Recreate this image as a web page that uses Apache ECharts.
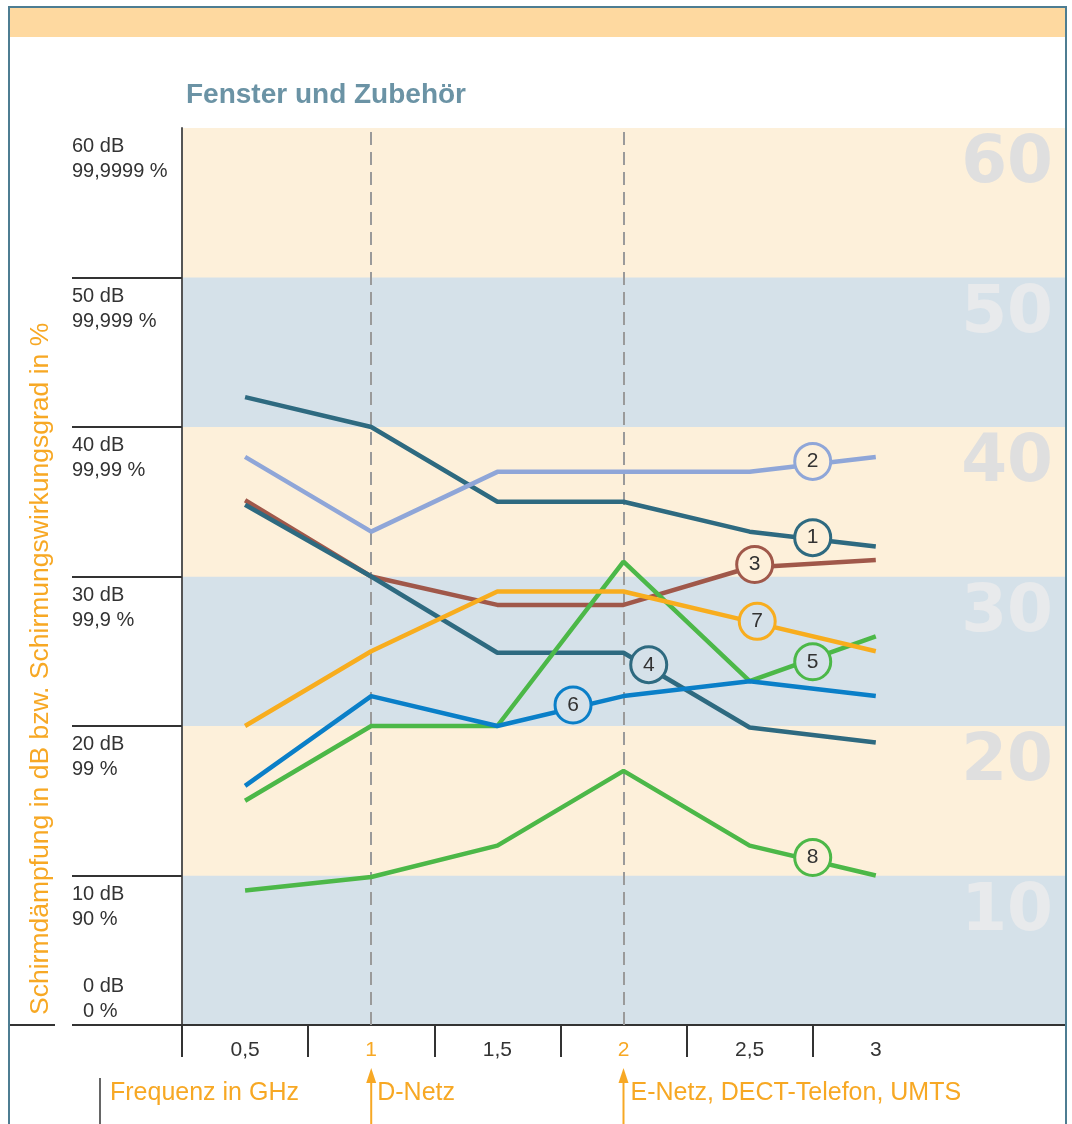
<!DOCTYPE html>
<html>
<head>
<meta charset="utf-8">
<script src="https://cdn.jsdelivr.net/npm/echarts@6/dist/echarts.min.js"></script>
<style>
  html, body { margin: 0; padding: 0; background: #fff; }
  #chart { width: 1072px; height: 1124px; }
</style>
</head>
<body>
<div id="chart"></div>
<script>
// frequencies in GHz
const freq = [0.5, 1, 1.5, 2, 2.5, 3];
const xLabelValues = [0.5, 1, 1.5, 2, 2.5, 3];
const xTickValues = [0.25, 0.75, 1.25, 1.75, 2.25, 2.75];

// Schirmdämpfung in dB
const line1 = [42, 40, 35, 35, 33, 32];
const line2 = [38, 33, 37, 37, 37, 38];
const line3 = [35.1, 30, 28.1, 28.1, 30.6, 31.1];
const line4 = [34.8, 30, 24.9, 24.9, 19.9, 18.9];
const line5 = [15, 20, 20, 31, 23, 26];
const line6 = [16, 22, 20, 22, 23, 22];
const line7 = [20, 25, 29, 29, 27, 25];
const line8 = [9, 9.9, 12, 17, 12, 10];

// numbered markers on the lines
const markerNames = ['1', '2', '3', '4', '5', '6', '7', '8'];
const markerX = [2.75, 2.75, 2.52, 2.1, 2.75, 1.8, 2.53, 2.75];
const markerY = [32.6, 37.7, 30.8, 24.1, 24.3, 21.4, 27.0, 11.2];

// y tick labels
const dbTicks = [10, 20, 30, 40, 50, 60];
const pctLabels = { 0: '0 %', 10: '90 %', 20: '99 %', 30: '99,9 %', 40: '99,99 %', 50: '99,999 %', 60: '99,9999 %' };

const colors = ['#2e6a80', '#8fa6d8', '#a0584a', '#2e6a80', '#4cb848', '#0a7fc8', '#f8ad1e', '#4cb848'];
const cream = '#fdf0da';
const blue = '#d5e1e9';
const orange = '#f7a824';
const font = 'Liberation Sans, Arial, sans-serif';

const lines = [line1, line2, line3, line4, line5, line6, line7, line8];

let series = lines.map(function (vals, i) {
    return {
        name: markerNames[i],
        type: 'line',
        data: vals.map(function (v, j) { return [freq[j], v]; }),
        symbol: 'none',
        lineStyle: { color: colors[i], width: 4.5 },
        z: 3
    };
});

// dashed markers at 1 GHz and 2 GHz
series[0].markLine = {
    silent: true,
    symbol: 'none',
    label: { show: false },
    lineStyle: { color: '#9a9a9a', width: 2, type: [13, 7] },
    data: [{ xAxis: 1 }, { xAxis: 2 }],
    z: 2
};

series.push({
    type: 'scatter',
    symbol: 'circle',
    symbolSize: 36,
    z: 10,
    data: markerNames.map(function (n, i) {
        let y = markerY[i];
        return {
            name: n,
            value: [markerX[i], y],
            itemStyle: {
                color: Math.floor(y / 10) % 2 === 0 ? blue : cream,
                borderColor: colors[i],
                borderWidth: 3,
                opacity: 1
            }
        };
    }),
    label: {
        show: true,
        position: 'inside',
        formatter: '{b}',
        color: '#333',
        fontSize: 21,
        fontFamily: font
    }
});

let option = {
    backgroundColor: '#fff',
    animation: false,
    title: {
        text: 'Fenster und Zubehör',
        left: 181,
        top: 76,
        textStyle: { color: '#6b93a5', fontSize: 28, fontWeight: 'bold', fontFamily: font }
    },
    grid: { left: 182, right: 7, top: 128, bottom: 99, show: true, backgroundColor: cream, borderWidth: 0 },
    xAxis: {
        type: 'value',
        min: 0.25,
        max: 3.75,
        splitLine: { show: false },
        axisLine: { show: true, lineStyle: { color: '#333', width: 2 } },
        axisTick: { show: true, customValues: xTickValues, length: 32, lineStyle: { color: '#333', width: 2 } },
        axisLabel: {
            customValues: xLabelValues,
            margin: 15,
            fontSize: 21,
            fontFamily: font,
            formatter: function (v) { return String(v).replace('.', ','); },
            color: function (v) { return (v == 1 || v == 2) ? orange : '#333'; }
        }
    },
    yAxis: [
        {
            type: 'value',
            min: 0,
            max: 60,
            interval: 10,
            position: 'left',
            splitLine: { show: false },
            splitArea: { show: true, areaStyle: { color: [blue, cream] } },
            axisLine: { show: true, lineStyle: { color: '#555', width: 2 } },
            axisTick: { show: true, customValues: [0, 10, 20, 30, 40, 50], length: 110, lineStyle: { color: '#333', width: 2 } },
            axisLabel: {
                customValues: dbTicks,
                align: 'left',
                verticalAlign: 'top',
                margin: 110,
                fontSize: 20,
                lineHeight: 25,
                padding: [6, 0, 0, 0],
                color: '#333',
                fontFamily: font,
                formatter: function (v) { return v + ' dB\n' + pctLabels[v]; }
            }
        },
        {
            type: 'value',
            min: 0,
            max: 60,
            interval: 10,
            position: 'left',
            splitLine: { show: false },
            axisLine: { show: false },
            axisTick: { show: false },
            axisLabel: {
                customValues: [0],
                align: 'left',
                verticalAlign: 'bottom',
                margin: 99,
                fontSize: 20,
                lineHeight: 25,
                padding: [0, 0, 1, 0],
                color: '#333',
                fontFamily: font,
                formatter: function (v) { return v + ' dB\n' + pctLabels[v]; }
            }
        },
        {
            type: 'value',
            min: 0,
            max: 60,
            interval: 10,
            position: 'right',
            splitLine: { show: false },
            axisLine: { show: false },
            axisTick: { show: false },
            axisLabel: {
                customValues: dbTicks,
                inside: true,
                align: 'right',
                verticalAlign: 'top',
                margin: 12,
                fontSize: 66,
                lineHeight: 74,
                fontWeight: 'bold',
                fontFamily: 'DejaVu Sans, sans-serif',
                color: function (v) { return (v / 10) % 2 === 0 ? '#dfdfdf' : '#e8eaec'; }
            }
        }
    ],
    series: series
};

let chart = echarts.init(document.getElementById('chart'));
chart.setOption(option);

// frame, top bar and annotations below the axis
let x1 = chart.convertToPixel({ xAxisIndex: 0 }, 1);
let x2 = chart.convertToPixel({ xAxisIndex: 0 }, 2);
let frame = '#4d7d92';

function arrow(x) {
    return [
        { type: 'line', shape: { x1: x, y1: 1078, x2: x, y2: 1124 }, style: { stroke: orange, lineWidth: 2 } },
        { type: 'polygon', shape: { points: [[x - 5, 1083], [x + 5, 1083], [x, 1068]] }, style: { fill: orange } }
    ];
}

chart.setOption({
    graphic: [
        { type: 'rect', shape: { x: 10, y: 8, width: 1055, height: 29 }, style: { fill: '#fed9a0' } },
        { type: 'rect', shape: { x: 8, y: 6, width: 1059, height: 2 }, style: { fill: frame } },
        { type: 'rect', shape: { x: 8, y: 6, width: 2, height: 1118 }, style: { fill: frame } },
        { type: 'rect', shape: { x: 1065, y: 6, width: 2, height: 1118 }, style: { fill: frame }, z: 100 },
        { type: 'line', shape: { x1: 10, y1: 1025, x2: 55, y2: 1025 }, style: { stroke: '#333', lineWidth: 2 } },
        { type: 'line', shape: { x1: 100, y1: 1078, x2: 100, y2: 1124 }, style: { stroke: '#333', lineWidth: 1.5 } },
        {
            type: 'text', x: 41, y: 1015, rotation: Math.PI / 2,
            style: { text: 'Schirmdämpfung in dB bzw. Schirmungswirkungsgrad in %', fill: orange, fontSize: 26.5, fontFamily: font, align: 'left', verticalAlign: 'middle' }
        },
        { type: 'text', x: 110, y: 1093, style: { text: 'Frequenz in GHz', fill: orange, fontSize: 25, fontFamily: font, verticalAlign: 'middle' } },
        { type: 'text', x: x1 + 6, y: 1093, style: { text: 'D-Netz', fill: orange, fontSize: 25, fontFamily: font, verticalAlign: 'middle' } },
        { type: 'text', x: x2 + 7, y: 1093, style: { text: 'E-Netz, DECT-Telefon, UMTS', fill: orange, fontSize: 25, fontFamily: font, verticalAlign: 'middle' } }
    ].concat(arrow(x1), arrow(x2))
});
</script>
</body>
</html>
